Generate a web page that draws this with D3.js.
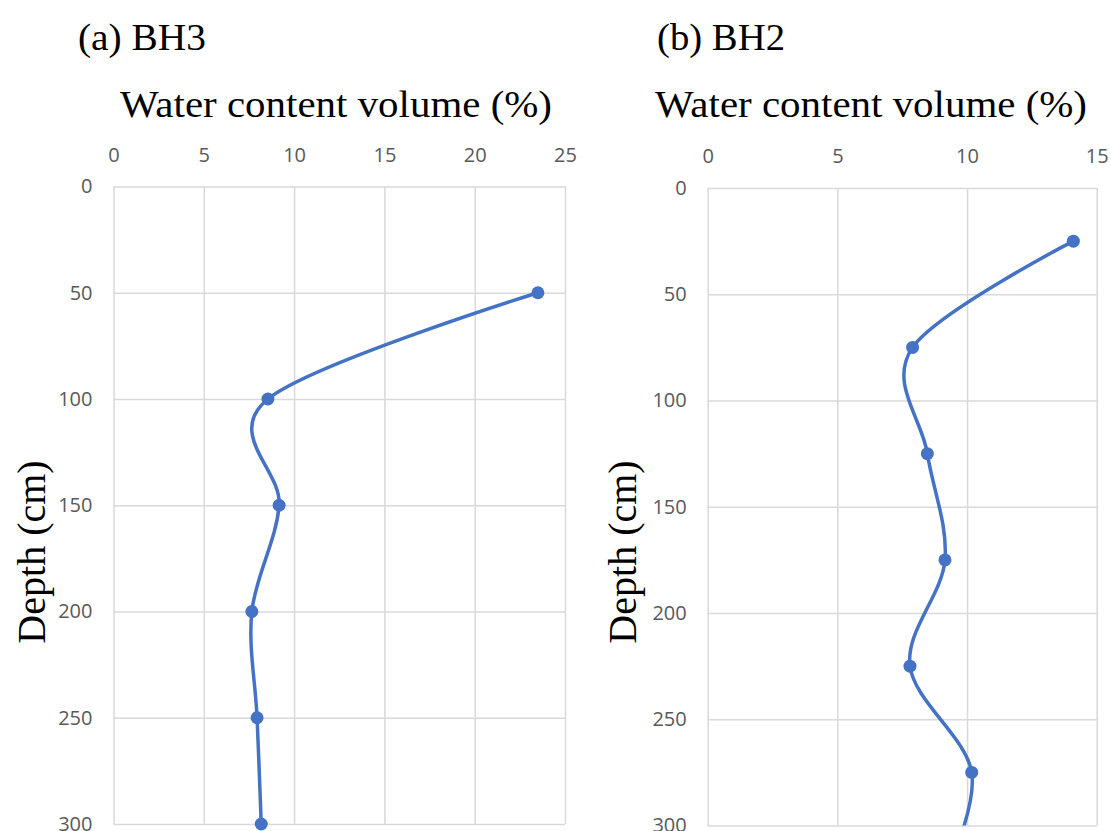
<!DOCTYPE html>
<html>
<head>
<meta charset="utf-8">
<script src="https://cdn.jsdelivr.net/npm/d3@7"></script>
<style>
  body { margin: 0; background: #fff; }
  .tick text { font-family: "Open Sans", sans-serif; font-size: 20px; fill: #595959; }
  .tick line { stroke: #d9d9d9; stroke-width: 1.5; }
  .serif { font-family: "Liberation Serif", "Times New Roman", serif; fill: #000; }
</style>
</head>
<body>
<script>
// Data
var bh3Depth = [50, 100, 150, 200, 250, 300];
var bh3Water = [23.5, 8.55, 9.17, 7.66, 7.95, 8.18];

var bh2Depth = [25, 75, 125, 175, 225, 275, 325];
var bh2Water = [14.1, 7.9, 8.47, 9.15, 7.8, 10.18, 9.1];

var bh3XTicks = [0, 5, 10, 15, 20, 25];
var bh2XTicks = [0, 5, 10, 15];
var depthTicks = [0, 50, 100, 150, 200, 250, 300];

var panelTitles = ["(a) BH3", "(b) BH2"];
var xTitle = "Water content volume (%)";
var yTitle = "Depth (cm)";

var svg = d3.select("body").append("svg")
    .attr("width", 1111)
    .attr("height", 831);

// Panel layout (pixel boxes of plot areas)
var panels = [
  { title: panelTitles[0], depth: bh3Depth, water: bh3Water, xTicks: bh3XTicks, xMax: 25,
    left: 113.5, right: 565, top: 186.5, bottom: 824,
    titleX: 78, axisTitleX: 120, yTitleX: 45 },
  { title: panelTitles[1], depth: bh2Depth, water: bh2Water, xTicks: bh2XTicks, xMax: 15,
    left: 707.7, right: 1096.7, top: 188, bottom: 825.5,
    titleX: 657, axisTitleX: 655, yTitleX: 636 }
];

panels.forEach(function(p, i) {
  var w = p.right - p.left, h = p.bottom - p.top;
  var g = svg.append("g").attr("transform", "translate(" + p.left + "," + p.top + ")");

  var x = d3.scaleLinear().domain([0, p.xMax]).range([0, w]);
  var y = d3.scaleLinear().domain([0, 300]).range([0, h]);

  // gridlines + tick labels
  var gx = g.append("g")
      .call(d3.axisTop(x).tickValues(p.xTicks).tickSizeInner(-h).tickSizeOuter(0).tickPadding(25));
  gx.select(".domain").remove();

  var gy = g.append("g")
      .call(d3.axisLeft(y).tickValues(depthTicks).tickSizeInner(-w).tickSizeOuter(0).tickPadding(21));
  gy.select(".domain").remove();

  // clip for the curve
  g.append("clipPath").attr("id", "clip" + i)
    .append("rect").attr("width", w).attr("height", h);

  var data = p.depth.map(function(d, k) { return { depth: d, water: p.water[k] }; });

  var line = d3.line()
      .x(function(d) { return x(d.water); })
      .y(function(d) { return y(d.depth); })
      .curve(d3.curveCardinal.tension(0));

  g.append("path")
      .datum(data)
      .attr("clip-path", "url(#clip" + i + ")")
      .attr("d", line)
      .attr("fill", "none")
      .attr("stroke", "#4472c4")
      .attr("stroke-width", 3.5);

  g.selectAll(".dot")
      .data(data.filter(function(d) { return d.depth <= 300; }))
      .enter().append("circle")
      .attr("class", "dot")
      .attr("cx", function(d) { return x(d.water); })
      .attr("cy", function(d) { return y(d.depth); })
      .attr("r", 6.5)
      .attr("fill", "#4472c4");

  // titles
  svg.append("text")
      .attr("class", "serif")
      .attr("x", p.titleX)
      .attr("y", 50)
      .attr("font-size", "38px")
      .attr("textLength", 128)
      .attr("lengthAdjust", "spacingAndGlyphs")
      .text(p.title);

  svg.append("text")
      .attr("class", "serif")
      .attr("x", p.axisTitleX)
      .attr("y", 117)
      .attr("font-size", "38px")
      .attr("textLength", 432)
      .attr("lengthAdjust", "spacingAndGlyphs")
      .text(xTitle);

  svg.append("text")
      .attr("class", "serif")
      .attr("transform", "translate(" + p.yTitleX + "," + 552 + ") rotate(-90)")
      .attr("text-anchor", "middle")
      .attr("font-size", "40px")
      .text(yTitle);
});
</script>
</body>
</html>
